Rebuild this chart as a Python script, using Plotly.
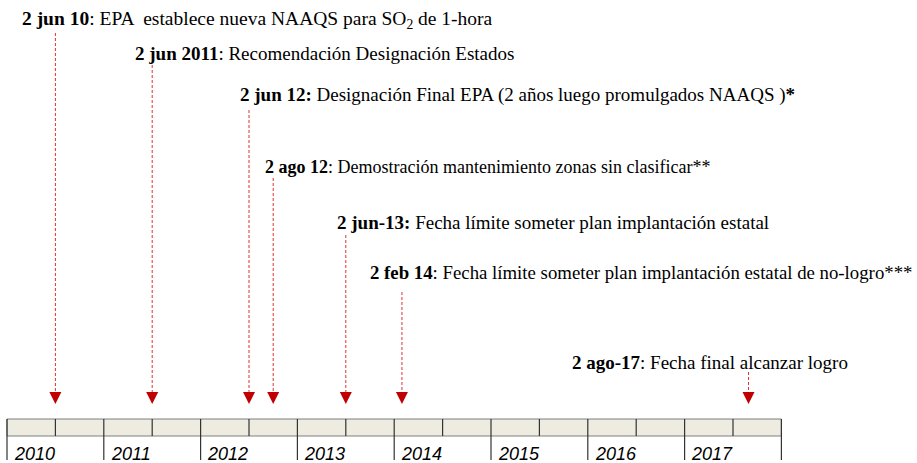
import plotly.graph_objects as go

# ---------------- data ----------------
years = [2010, 2011, 2012, 2013, 2014, 2015, 2016, 2017]
year_labels = ["2010", "2011", "2012", "2013", "2014", "2015", "2016", "2017"]

event_dates = [2010.50, 2011.50, 2012.50, 2012.75, 2013.50, 2014.08, 2017.66]
event_dates_text = ["2 jun 10", "2 jun 2011", "2 jun 12:", "2 ago 12", "2 jun-13:", "2 feb 14", "2 ago-17"]
event_descriptions = [
    ": EPA  establece nueva NAAQS para SO<sub>2</sub> de 1-hora",
    ": Recomendación Designación Estados",
    " Designación Final EPA (2 años luego promulgados NAAQS )<b>*</b>",
    ": Demostración mantenimiento zonas sin clasificar**",
    " Fecha límite someter plan implantación estatal",
    ": Fecha límite someter plan implantación estatal de no-logro***",
    ": Fecha final alcanzar logro",
]

# ---------------- layout (pixel-based placement) ----------------
W, H = 917, 463
x0_px, year_px = 7, 96.8
label_x_px = [20, 133, 238, 263, 335, 368, 570]
label_y_px = [20, 53, 95, 167, 222, 272, 362]
label_size = [19.5, 19, 19, 18, 19, 18.8, 19]
line_top_px = [33, 65, 110, 178, 235, 292, 372]
arrow_top = 399
arrow_mid = 404
bar_top, bar_bot, tick_bot = 419, 436, 460

xr = [years[0] - x0_px / year_px, years[0] + (W - x0_px) / year_px]

fig = go.Figure()

# dashed connectors
for d, yt in zip(event_dates, line_top_px):
    fig.add_trace(go.Scatter(
        x=[d, d], y=[yt, arrow_top], mode="lines",
        line=dict(color="#E03030", width=1, dash="3px,2px"),
        hoverinfo="skip", showlegend=False))

# arrow heads
fig.add_trace(go.Scatter(
    x=event_dates, y=[arrow_mid] * len(event_dates), mode="markers",
    marker=dict(symbol="arrow-down", size=12, color="#C00000",
                line=dict(width=0)),
    hoverinfo="skip", showlegend=False))

shapes = []
end_year = years[-1] + 1
# background bar
shapes.append(dict(type="rect", xref="x", yref="y", x0=years[0], x1=end_year,
                   y0=bar_top, y1=bar_bot, fillcolor="#EEEBE0",
                   line=dict(color="#7F7F7F", width=1), layer="below"))
# half-year dividers
for y in years:
    shapes.append(dict(type="line", xref="x", yref="y", x0=y + 0.5, x1=y + 0.5,
                       y0=bar_top, y1=bar_bot, line=dict(color="#333333", width=1.2)))
# year dividers with ticks below
for y in years + [end_year]:
    shapes.append(dict(type="line", xref="x", yref="y", x0=y, x1=y,
                       y0=bar_top, y1=tick_bot, line=dict(color="#333333", width=1.2)))

annotations = []
for y, lab in zip(years, year_labels):
    annotations.append(dict(
        x=y + 0.05, y=442, xref="x", yref="y", xanchor="left", yanchor="top",
        text="<i>" + lab + "</i>", showarrow=False,
        font=dict(family="Liberation Sans", size=18, color="#000000")))

serif = "Times New Roman, Liberation Serif, serif"
for xp, yp, sz, bold, desc in zip(label_x_px, label_y_px, label_size,
                                  event_dates_text, event_descriptions):
    annotations.append(dict(
        x=xp / W, y=yp, xref="paper", yref="y", xanchor="left", yanchor="middle",
        text="<b>" + bold + "</b>" + desc, showarrow=False,
        font=dict(family=serif, size=sz, color="#000000")))

fig.update_layout(
    width=W, height=H,
    margin=dict(l=0, r=0, t=0, b=0),
    paper_bgcolor="white", plot_bgcolor="white",
    xaxis=dict(range=xr, visible=False, fixedrange=True),
    yaxis=dict(range=[H, 0], visible=False, fixedrange=True),
    shapes=shapes, annotations=annotations,
    showlegend=False,
)

fig.write_html("out.html", config={"displayModeBar": False},
               post_script="document.body.style.margin='0';document.body.style.overflow='hidden';")
